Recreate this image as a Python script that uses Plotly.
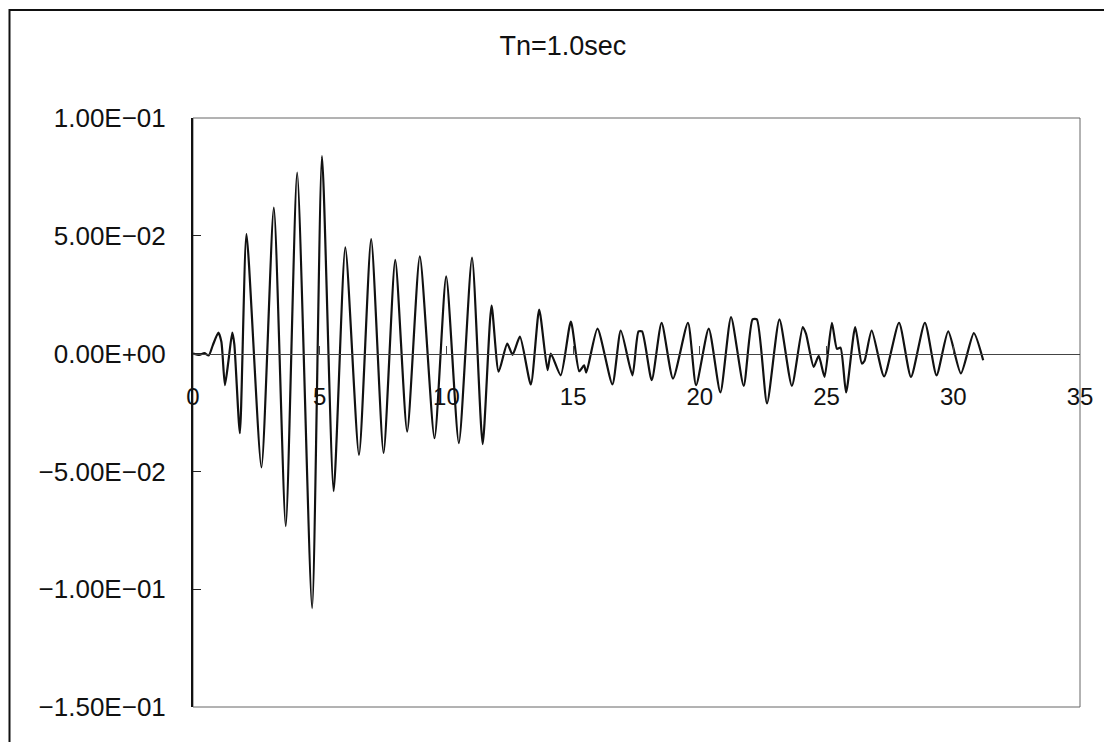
import plotly.graph_objects as go

# Time (s) and response values
time_s = [0.00, 0.25, 0.45, 0.62, 0.78, 1.00, 1.12, 1.26, 1.40, 1.55, 1.63, 1.85,
          2.11, 2.70, 3.19, 3.66, 4.11, 4.70, 5.09, 5.55, 6.01, 6.55, 7.03, 7.52,
          7.98, 8.45, 8.95, 9.53, 9.99, 10.49, 11.01, 11.43, 11.78, 12.06, 12.40,
          12.61, 12.90, 13.33, 13.66, 13.99, 14.12, 14.51, 14.91, 15.24, 15.43,
          15.52, 15.96, 16.55, 16.88, 17.34, 17.58, 17.72, 18.10, 18.49, 18.94,
          19.53, 19.85, 20.35, 20.81, 21.23, 21.73, 22.08, 22.25, 22.65, 23.14,
          23.63, 24.06, 24.19, 24.49, 24.69, 24.92, 25.21, 25.41, 25.55, 25.77,
          26.13, 26.39, 26.50, 26.78, 27.27, 27.86, 28.33, 28.88, 29.34, 29.80,
          30.30, 30.81, 31.18]
response = [0.0000, -0.0006, 0.0002, -0.0008, 0.0035, 0.0089, 0.0050, -0.0134, -0.0030,
            0.0089, 0.0040, -0.0338, 0.0507, -0.0483, 0.0620, -0.0732, 0.0768, -0.1080,
            0.0838, -0.0584, 0.0451, -0.0430, 0.0486, -0.0422, 0.0398, -0.0331, 0.0413,
            -0.0359, 0.0328, -0.0380, 0.0408, -0.0384, 0.0204, -0.0077, 0.0042, -0.0005,
            0.0072, -0.0131, 0.0187, -0.0070, 0.0000, -0.0092, 0.0136, -0.0075, -0.0050,
            -0.0080, 0.0106, -0.0131, 0.0098, -0.0092, 0.0094, 0.0094, -0.0113, 0.0131,
            -0.0106, 0.0131, -0.0134, 0.0106, -0.0165, 0.0155, -0.0137, 0.0145, 0.0145,
            -0.0211, 0.0145, -0.0137, 0.0113, 0.0084, -0.0056, -0.0010, -0.0099, 0.0131,
            0.0020, 0.0025, -0.0165, 0.0113, -0.0042, -0.0030, 0.0098, -0.0097, 0.0131,
            -0.0099, 0.0131, -0.0092, 0.0094, -0.0084, 0.0087, -0.0028]

y_tickvals = [0.10, 0.05, 0.0, -0.05, -0.10, -0.15]
y_ticktext = ["1.00E\u221201", "5.00E\u221202", "0.00E+00",
              "\u22125.00E\u221202", "\u22121.00E\u221201", "\u22121.50E\u221201"]
x_tickvals = [0, 5, 10, 15, 20, 25, 30, 35]
x_ticktext = ["0", "5", "10", "15", "20", "25", "30", "35"]
title_text = "Tn=1.0sec"

FONT = "Liberation Sans, Arial, sans-serif"

fig = go.Figure()
fig.add_trace(go.Scatter(x=time_s, y=response, mode="lines",
                         line=dict(color="#111111", width=2.2, shape="spline",
                                   smoothing=0.6),
                         showlegend=False))

fig.update_layout(
    width=1112, height=742,
    margin=dict(l=185, r=40, t=110, b=43),
    paper_bgcolor="white", plot_bgcolor="white",
    font=dict(family=FONT, color="#111111"),
    title=dict(text=title_text, x=0.499, xref="container", xanchor="center",
               y=1 - 38 / 742, yref="container", yanchor="middle",
               font=dict(size=27, family=FONT, color="#111111")),
    xaxis=dict(range=[0, 35], tickvals=x_tickvals, ticktext=x_ticktext,
               anchor="free", position=0.6, showgrid=False, zeroline=False,
               showline=True, linecolor="#444444", linewidth=1,
               ticks="inside", ticklen=8, tickcolor="#444444",
               ticklabelstandoff=22, tickfont=dict(size=24, family=FONT)),
    yaxis=dict(range=[-0.15, 0.10], tickvals=y_tickvals, ticktext=y_ticktext,
               showgrid=False, zeroline=False, showline=True, linecolor="#111111",
               linewidth=2, ticks="inside", ticklen=8, tickcolor="#222222",
               ticklabelstandoff=20, tickfont=dict(size=26, family=FONT)),
    shapes=[
        dict(type="rect", xref="paper", yref="paper", x0=0, x1=1, y0=0, y1=1,
             line=dict(color="#666666", width=1), layer="below"),
        dict(type="rect", xref="paper", yref="paper", x0=-183.5 / 887, x1=1.05,
             y0=-0.1, y1=(707 - 10) / 589, line=dict(color="#111111", width=2)),
    ],
)

fig.write_html("out.html")
